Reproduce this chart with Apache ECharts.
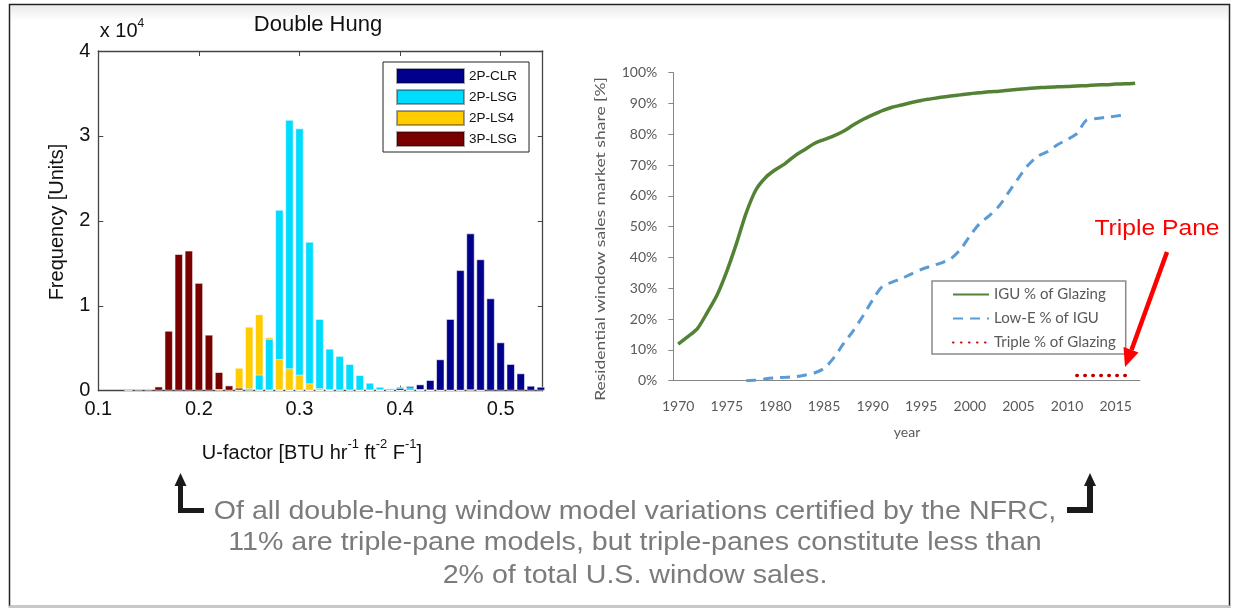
<!DOCTYPE html>
<html><head><meta charset="utf-8">
<script src="https://cdn.jsdelivr.net/npm/echarts@6/dist/echarts.min.js"></script>
<style>html,body{margin:0;padding:0;background:#fff}#c{width:1238px;height:609px}</style>
</head><body><div id="c"></div>
<script>
// ---------- Left: Double Hung U-factor histogram (counts) ----------
const histBins = [0.10,0.11,0.12,0.13,0.14,0.15,0.16,0.17,0.18,0.19,0.20,0.21,0.22,0.23,0.24,0.25,0.26,0.27,0.28,0.29,0.30,0.31,0.32,0.33,0.34,0.35,0.36,0.37,0.38,0.39,0.40,0.41,0.42,0.43,0.44,0.45,0.46,0.47,0.48,0.49,0.50,0.51,0.52,0.53,0.54];
const hist2PCLR = [0,0,0,0,0,0,0,0,0,0,0,0,0,0,0,0,0,0,0,0,0,0,0,0,0,0,50,100,150,200,300,550,750,1260,3700,8450,14200,18530,15480,10880,5700,3150,2050,590,470];
const hist2PLSG = [0,0,0,0,0,0,0,0,0,0,0,0,0,0,100,300,1900,6100,21300,31900,30900,17550,8450,4950,4100,3150,1850,940,470,280,470,400,200,100,0,0,0,0,0,0,0,0,0,0,0];
const hist2PLS4 = [0,0,0,0,0,0,0,0,0,0,0,0,200,670,2700,7540,9000,6300,3730,2640,1900,870,300,150,100,100,50,50,50,50,50,50,50,50,50,50,50,150,50,0,0,0,0,0,0];
const hist3PLSG = [0,0,0,50,160,160,500,7060,16100,16500,12700,6600,2200,620,350,200,100,100,100,50,50,50,50,50,0,0,0,0,0,0,0,0,0,0,0,0,0,0,0,0,0,0,0,0,0];
const histNames = ['2P-CLR','2P-LSG','2P-LS4','3P-LSG'];
const histColors = ['#00008c','#00dcff','#ffcc00','#7a0000'];
const uTicks = [0.1,0.2,0.3,0.4,0.5];

// ---------- Right: residential window market share ----------
const years = ['1970','1971','1972','1973','1974','1975','1976','1977','1978','1979','1980','1981','1982','1983','1984','1985','1986','1987','1988','1989','1990','1991','1992','1993','1994','1995','1996','1997','1998','1999','2000','2001','2002','2003','2004','2005','2006','2007','2008','2009','2010','2011','2012','2013','2014','2015','2016','2017'];
const iguShare = [11.9,14.3,17.0,22.2,27.8,35.5,44.6,54.5,62.0,66.0,68.5,70.5,73.0,75.0,77.0,78.3,79.5,81.0,83.0,84.8,86.3,87.7,88.8,89.5,90.3,91.0,91.5,92.0,92.4,92.8,93.2,93.5,93.8,94.0,94.3,94.6,94.9,95.1,95.3,95.4,95.5,95.7,95.8,96.0,96.1,96.3,96.4,96.6];
const lowEShare = [null,null,null,null,null,null,null,0,0.2,0.6,0.9,1.1,1.3,1.8,2.5,4.0,7.4,12.0,16.2,21.0,26.2,30.6,32.0,33.2,34.7,36.1,37.2,38.2,39.5,42.5,47.0,51.0,53.6,56.7,61.2,65.8,70.0,72.9,74.4,76.6,78.3,80.2,84.6,85.1,85.5,85.9,86.3,null];
const tripleShare = [null,null,null,null,null,null,null,null,null,null,null,null,null,null,null,null,null,null,null,null,null,null,null,null,null,null,null,null,null,null,null,null,null,null,null,null,null,null,null,null,null,1.7,1.7,1.7,1.7,1.7,1.7,null];
const shareNames = ['IGU % of Glazing','Low-E % of IGU','Triple % of Glazing'];

const chart = echarts.init(document.getElementById('c'), null, {renderer:'canvas'});

// layer the overlapping histogram bars so shorter bars are drawn in front
const histSets = [hist2PCLR, hist2PLSG, hist2PLS4, hist3PLSG];
const layers = [[],[],[],[]];
histBins.forEach((b,i)=>{
  const order = [0,1,2,3].sort((p,q)=>histSets[q][i]-histSets[p][i]);
  order.forEach((s,k)=>{
    const v = histSets[s][i];
    if (v > 0) layers[k].push({value:[b, v], itemStyle:{color:histColors[s]}});
  });
});
const BW = 8.5;
const barCommon = {type:'bar', xAxisIndex:0, yAxisIndex:0, barWidth:BW, barGap:'-100%', silent:true,
  itemStyle:{borderColor:'rgba(255,255,255,0.55)', borderWidth:1}};
const histSeries = layers.map((d,k)=>Object.assign({}, barCommon, {name:'layer'+k, data:d, z:2+k}));
const legendDummies = histNames.map((n,s)=>Object.assign({}, barCommon, {name:n, data:[], itemStyle:{color:histColors[s], borderColor:'rgba(0,0,0,0.35)', borderWidth:1}}));

const HF = 'Liberation Sans, Arial, Helvetica, sans-serif';
const EF = 'Lato, Calibri, sans-serif';
const axisDark = {onZero:false, lineStyle:{color:'#444', width:1.3}};

function txt(x, y, text, o) {
  return Object.assign({type:'text', x:x, y:y, z:50, style:Object.assign({text:text, align:'center', verticalAlign:'middle', fontFamily:HF, fontSize:20, fill:'#111'}, o && o.style)}, o && o.el);
}

const option = {
  animation:false,
  backgroundColor:'#fff',
  grid:[
    {left:98.3, top:51, width:444.4, height:339.7},
    {left:673.3, top:72.7, width:466.7, height:308}
  ],
  xAxis:[
    {gridIndex:0, type:'value', min:0.1, max:0.5418, interval:0.1, position:'bottom',
      axisLine:axisDark, axisTick:{inside:true, length:5, lineStyle:{color:'#444'}},
      splitLine:{show:false},
      axisLabel:{fontFamily:HF, fontSize:20, color:'#111', margin:9,
        formatter:v=>{const t=uTicks.find(u=>Math.abs(u-v)<1e-6); return t===undefined?'':t.toFixed(1);}}},
    {gridIndex:0, type:'value', min:0.1, max:0.5418, interval:0.1, position:'top',
      axisLine:axisDark, axisTick:{inside:true, length:5, lineStyle:{color:'#444'}},
      splitLine:{show:false}, axisLabel:{show:false}},
    {gridIndex:1, type:'category', data:years, boundaryGap:true,
      axisLine:{onZero:false, lineStyle:{color:'#868686', width:1}},
      axisTick:{interval:4, length:6, lineStyle:{color:'#868686'}},
      axisLabel:{interval:4, fontFamily:EF, fontSize:14, color:'#595959', margin:19}}
  ],
  yAxis:[
    {gridIndex:0, type:'value', min:0, max:40000, interval:10000, position:'left',
      axisLine:Object.assign({show:true}, axisDark), axisTick:{show:true, inside:true, length:5, lineStyle:{color:'#444'}},
      splitLine:{show:false},
      axisLabel:{fontFamily:HF, fontSize:20, color:'#111', margin:8, formatter:v=>String(Math.round(v/10000))}},
    {gridIndex:0, type:'value', min:0, max:40000, interval:10000, position:'right',
      axisLine:Object.assign({show:true}, axisDark), axisTick:{show:true, inside:true, length:5, lineStyle:{color:'#444'}},
      splitLine:{show:false}, axisLabel:{show:false}},
    {gridIndex:1, type:'value', min:0, max:100, interval:10,
      axisLine:{show:true, onZero:false, lineStyle:{color:'#868686', width:1}},
      axisTick:{show:true, length:5, lineStyle:{color:'#868686'}},
      splitLine:{show:false},
      axisLabel:{fontFamily:EF, fontSize:14, color:'#595959', margin:16, formatter:'{value}%'}}
  ],
  legend:[
    {data:histNames, orient:'vertical', left:383, top:62, padding:[6,12,5,13],
      itemWidth:67, itemHeight:14, itemGap:5, icon:'rect', selectedMode:false,
      borderColor:'#222', borderWidth:1, backgroundColor:'#fff',
      textStyle:{fontFamily:HF, fontSize:13.5, color:'#111'}},
    {data:shareNames, orient:'vertical', left:932, top:281, padding:[6,10,4,20],
      itemWidth:36, itemHeight:12, itemGap:9, selectedMode:false,
      itemStyle:{opacity:0},
      borderColor:'#8a8a8a', borderWidth:1.5, backgroundColor:'#fff',
      textStyle:{fontFamily:EF, fontSize:15, color:'#595959'}}
  ],
  series: histSeries.concat(legendDummies).concat([
    {type:'line', name:shareNames[0], xAxisIndex:2, yAxisIndex:2, data:iguShare, symbol:'none', smooth:0.3,
      lineStyle:{color:'#548235', width:3.5}, itemStyle:{color:'#548235'}},
    {type:'line', name:shareNames[1], xAxisIndex:2, yAxisIndex:2, data:lowEShare, symbol:'none', smooth:0.3,
      lineStyle:{color:'#5b9bd5', width:3, type:[10,7]}, itemStyle:{color:'#5b9bd5'}},
    {type:'line', name:shareNames[2], xAxisIndex:2, yAxisIndex:2, data:tripleShare, symbol:'none',
      lineStyle:{color:'#c00000', width:3.5, type:[0.5,7.5], cap:'round'}, itemStyle:{color:'#c00000'}}
  ]),
  graphic:[
    {type:'rect', z:0, shape:{x:10.5, y:5.5, width:1218, height:16},
      style:{fill:new echarts.graphic.LinearGradient(0,0,0,1,[{offset:0,color:'rgba(0,0,0,0.08)'},{offset:1,color:'rgba(0,0,0,0)'}])}},
    {type:'rect', z:60, shape:{x:9.5, y:4.5, width:1220, height:602}, style:{fill:'none', stroke:'#222', lineWidth:1.5}},
    {type:'line', z:61, shape:{x1:9, y1:606.5, x2:1231, y2:606.5}, style:{stroke:'#c8c8c8', lineWidth:2}},
    // left chart texts
    txt(318, 25, 'Double Hung', {style:{fontSize:22}}),
    txt(122, 31, '{a|x 10}{s|4}', {style:{rich:{a:{fontFamily:HF, fontSize:20, color:'#111', lineHeight:26}, s:{fontFamily:HF, fontSize:12, color:'#111', lineHeight:12, verticalAlign:'top'}}}}),
    txt(57, 222, 'Frequency [Units]', {el:{rotation:Math.PI/2}}),
    txt(312, 453, '{a|U-factor [BTU hr}{s|-1}{a| ft}{s|-2}{a| F}{s|-1}{a|]}', {style:{rich:{a:{fontFamily:HF, fontSize:20, color:'#111', lineHeight:30}, s:{fontFamily:HF, fontSize:13, color:'#111', lineHeight:16, verticalAlign:'top'}}}}),
    // right chart texts
    txt(600, 239, 'Residential window sales market share [%]', {style:{fontFamily:EF, fontSize:14, fill:'#595959'}, el:{rotation:Math.PI/2, scaleX:1.25}}),
    txt(907, 432, 'year', {style:{fontFamily:EF, fontSize:14, fill:'#595959'}}),
    txt(1157, 229, 'Triple Pane', {style:{fontSize:22, fill:'#ff0000'}, el:{scaleX:1.12}}),
    {type:'line', z:70, shape:{x1:1167, y1:252, x2:1131.5, y2:350}, style:{stroke:'#ff0000', lineWidth:4.5}},
    {type:'polygon', z:70, shape:{points:[[1125,367],[1138.5,352.5],[1123.5,347]]}, style:{fill:'#ff0000'}},
    // bottom caption
    txt(635, 512, 'Of all double-hung window model variations certified by the NFRC,', {style:{fontSize:26, fill:'#7b7b7b'}, el:{scaleX:1.1}}),
    txt(635, 543, '11% are triple-pane models, but triple-panes constitute less than', {style:{fontSize:26, fill:'#7b7b7b'}, el:{scaleX:1.1}}),
    txt(635, 576, '2% of total U.S. window sales.', {style:{fontSize:26, fill:'#7b7b7b'}, el:{scaleX:1.1}}),
    {type:'polygon', z:70, shape:{points:[[178,485],[183,485],[183,508],[204,508],[204,513],[178,513]]}, style:{fill:'#1a1a1a'}},
    {type:'polygon', z:70, shape:{points:[[174.5,486],[186.5,486],[180.5,473]]}, style:{fill:'#1a1a1a'}},
    {type:'polygon', z:70, shape:{points:[[1087,485],[1093,485],[1093,513],[1067,513],[1067,507],[1087,507]]}, style:{fill:'#1a1a1a'}},
    {type:'polygon', z:70, shape:{points:[[1084,486],[1096,486],[1090,473]]}, style:{fill:'#1a1a1a'}}
  ]
};
chart.setOption(option);
</script></body></html>
